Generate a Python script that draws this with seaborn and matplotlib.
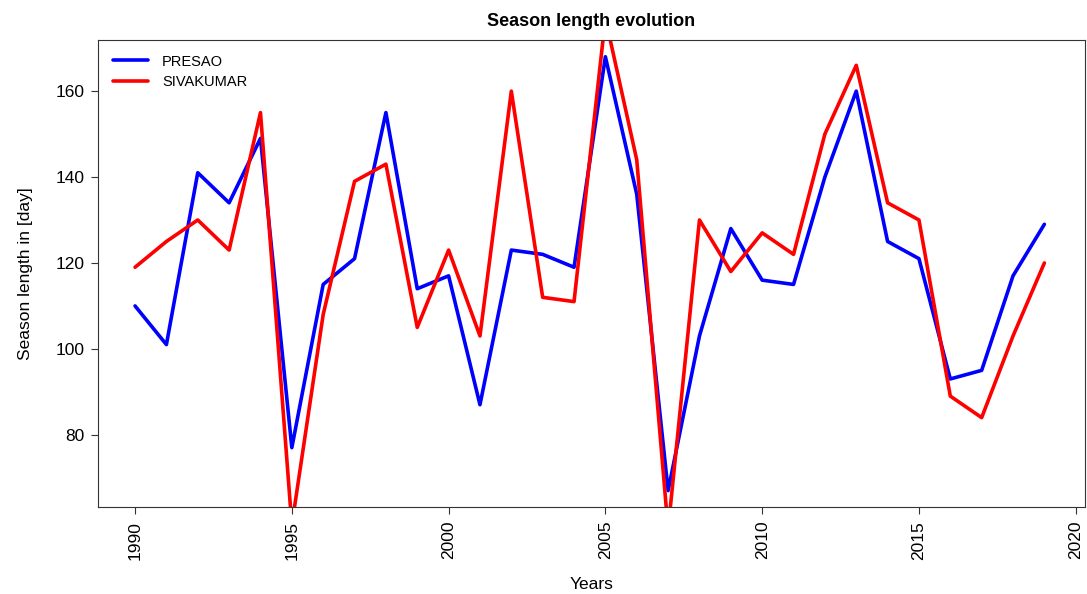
import pandas as pd
import seaborn as sns
import matplotlib.pyplot as plt

years = list(range(1990, 2020))
presao = [110, 101, 141, 134, 149, 77, 115, 121, 155, 114,
          117, 87, 123, 122, 119, 168, 136, 67, 103, 128,
          116, 115, 140, 160, 125, 121, 93, 95, 117, 129]
sivakumar = [119, 125, 130, 123, 155, 59, 108, 139, 143, 105,
             123, 103, 160, 112, 111, 177, 144, 58, 130, 118,
             127, 122, 150, 166, 134, 130, 89, 84, 103, 120]

df = pd.DataFrame({'Year': years * 2,
                   'Length': presao + sivakumar,
                   'Source': ['PRESAO'] * len(years) + ['SIVAKUMAR'] * len(years)})

sns.set_style('ticks')
plt.rcParams['font.family'] = ['Liberation Sans', 'DejaVu Sans']
plt.rcParams['text.color'] = 'black'
plt.rcParams['axes.labelcolor'] = 'black'
plt.rcParams['xtick.color'] = '#333333'
plt.rcParams['ytick.color'] = '#333333'
plt.rcParams['xtick.labelcolor'] = 'black'
plt.rcParams['ytick.labelcolor'] = 'black'

fig = plt.figure(figsize=(10.87, 5.94), dpi=100)
ax = fig.add_axes([0.0902, 0.1465, 0.9078, 0.7862])
sns.lineplot(data=df, x='Year', y='Length', hue='Source',
             palette={'PRESAO': '#0000ff', 'SIVAKUMAR': '#ff0000'},
             linewidth=2.6, ax=ax)

ax.set_xlim(1988.82, 2020.29)
ax.set_ylim(63.2, 171.9)
ax.set_xticks(range(1990, 2021, 5))
ax.set_yticks(range(80, 161, 20))
ax.tick_params(axis='x', labelrotation=90, labelsize=12.5, length=5, width=0.8, pad=5)
ax.tick_params(axis='y', labelsize=12.5, length=5, width=0.8, pad=5)
for s in ax.spines.values():
    s.set_visible(True)
    s.set_color('#333333')
    s.set_linewidth(0.8)

ax.set_xlabel('Years', fontsize=12.5, labelpad=12)
ax.set_ylabel('Season length in [day]', fontsize=12.5, labelpad=16)
ax.set_title('Season length evolution', fontsize=13, fontweight='bold', pad=10)

leg = ax.legend(loc='upper left', frameon=False, fontsize=10.5, handlelength=2.4,
                borderaxespad=0.6, labelspacing=0.45, handletextpad=1.0)
leg.set_title(None)

fig.savefig('out.png', dpi=100)
